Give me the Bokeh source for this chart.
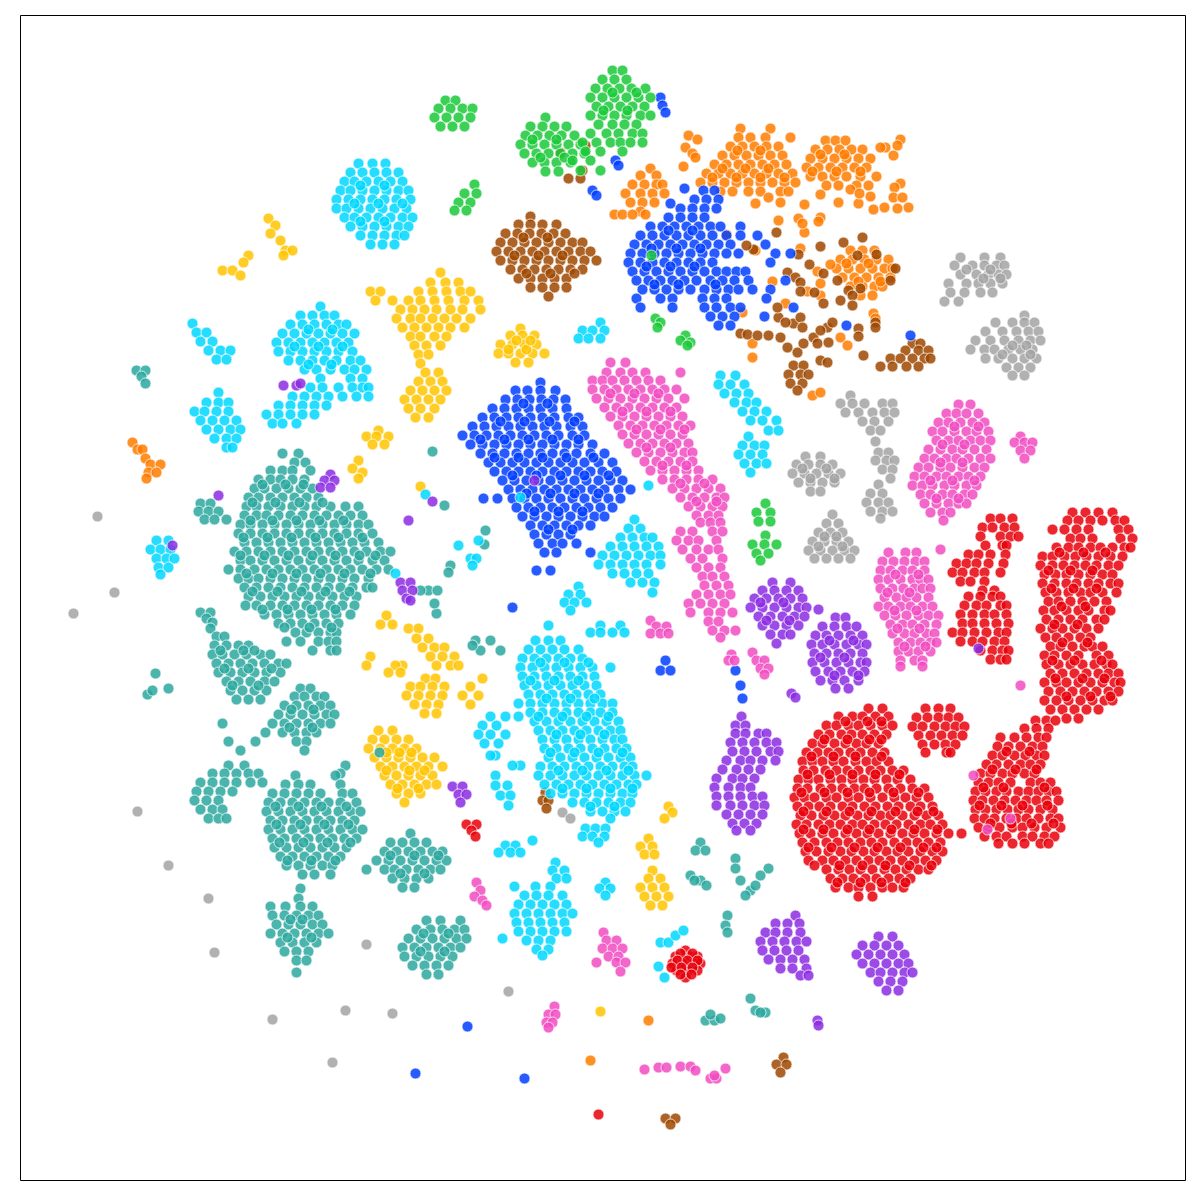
from bokeh.plotting import figure
from bokeh.embed import file_html
from bokeh.resources import INLINE

# Values, listed as (y, [x, ...]) rows, cluster by cluster.
red_rows = [
 (708,[868,882]),(716,[838,852,862,875,888]),(725,[826,836,848,858,870,882,892]),(734,[818,829,841,851,862,874,886]),
 (743,[812,822,834,845,856,866,878]),(752,[806,817,828,838,850,860,872,884]),(761,[802,812,822,833,843,855,866,876,888]),
 (770,[803,813,825,836,847,858,870,880,892,903]),(779,[798,808,818,830,841,852,863,874,886,897,910]),
 (788,[797,807,820,831,842,854,864,876,888,900,912,924]),(797,[794,804,814,826,836,848,858,870,882,894,905,916,928]),
 (806,[797,808,819,830,842,852,864,875,887,898,910,920,932]),(815,[800,811,823,834,845,857,868,880,890,902,914,926,938]),
 (824,[796,806,818,829,840,852,862,874,885,896,908,920,930,942]),(833,[799,810,822,833,845,856,867,878,890,902,913,924,936,948,961]),
 (842,[802,814,826,837,848,860,871,882,894,906,917,928,940]),(851,[805,816,828,840,851,863,874,886,897,908,920,932,942]),
 (860,[808,822,833,845,856,868,879,890,902,914,925,936]),(869,[826,838,849,860,872,884,895,906,918,928]),
 (878,[830,842,853,865,876,888,899,910]),(887,[835,848,858,870,882,892,903]),(896,[858,872]),
 (721,[845,867,881]),(739,[824,847,869,881]),(756,[811,833,855,881]),(774,[807,829,852,875,899]),(792,[801,824,847,869,893,918]),
 (811,[803,826,849,871,895,917,933]),(829,[803,823,847,869,891,914,937]),(847,[808,831,854,877,900,923,936]),(865,[814,839,862,885,909,931]),(882,[837,860,881,905]),
 (708,[925,938,950]),(717,[916,927,938,948,958]),(726,[912,922,934,945,955,964]),(735,[918,930,941,952,962]),(744,[922,934,945,955]),(752,[925,946,950]),
 (720,[1035,1046,1055]),(728,[1024,1036,1048]),(737,[1000,1014,1026,1038,1046]),(746,[997,1008,1020,1032,1042]),
 (755,[992,1002,1014,1025,1036,1044]),(764,[986,996,1008,1020,1030,1040]),(773,[980,990,1002,1012,1024,1034]),
 (782,[978,988,998,1010,1030,1040,1050]),(791,[975,985,996,1006,1018,1028,1038,1048,1056]),
 (800,[973,982,993,1004,1015,1026,1036,1046,1058]),(809,[975,985,996,1007,1018,1028,1040,1052]),
 (818,[974,984,994,1006,1016,1026,1038,1050,1058]),(827,[978,988,999,1012,1022,1034,1046,1060]),
 (836,[984,996,1006,1022,1032,1044,1054]),(843,[998,1012,1024,1040,1048]),
 (751,[1006,1029]),(769,[992,1015,1036]),(787,[983,1003,1044]),(805,[979,1001,1022,1047]),(823,[990,1011,1031,1053]),
 (512,[1072,1085,1098,1112]),(520,[1067,1078,1090,1102,1115,1124]),(529,[1064,1076,1088,1118,1128,1052]),(538,[1070,1080,1092,1120,1132]),
 (547,[1056,1068,1078,1090,1100,1112,1124,1130]),(556,[1042,1052,1064,1075,1086,1098,1110,1122]),(565,[1040,1052,1063,1074,1085,1096,1108,1118]),
 (574,[1044,1055,1066,1078,1090,1102,1112]),(583,[1042,1054,1066,1076,1088,1098,1110,1118]),(592,[1045,1056,1068,1080,1090,1102,1116]),
 (601,[1048,1058,1070,1082,1094,1106]),(610,[1043,1054,1066,1078,1088,1104,1110]),(619,[1046,1058,1070,1082,1096,1104]),
 (628,[1040,1052,1062,1074,1086,1098]),(637,[1045,1056,1068,1080,1090]),(646,[1050,1060,1072,1084,1092,1102]),
 (655,[1044,1054,1066,1078,1096,1108]),(664,[1046,1058,1070,1082,1094,1106,1112]),(673,[1050,1062,1074,1086,1098,1108,1118]),
 (682,[1044,1056,1066,1078,1090,1102,1114,1120]),(691,[1048,1060,1072,1084,1096,1108,1118]),(700,[1044,1056,1068,1080,1092,1104,1112]),
 (709,[1050,1062,1074,1086,1098]),(718,[1066,1078]),
 (552,[1059,1083,1105]),(570,[1048,1070,1092]),(588,[1051,1073,1096]),(606,[1061,1085]),(624,[1054,1077]),(642,[1062,1087]),(660,[1052,1074,1101]),(678,[1055,1082,1104]),(696,[1066,1090,1110]),
 (518,[990,1000,1012]),(527,[982,992,1004,1014]),(536,[980,1000,1010,1018]),(545,[985,1002,1006]),(554,[968,978,990,1005]),
 (563,[956,966,976,988,1003]),(572,[952,962,974,984,1000]),(581,[960,970,984]),(590,[982,994]),(596,[968,980,992,1000]),
 (605,[964,976,986,1000,1006]),(614,[960,972,984,994,1006]),(623,[962,972,984,996,1008]),(632,[952,962,974,986,998,1006]),
 (641,[960,972,982,994,1004]),(650,[980,992,1002,1008]),(659,[990,1000,1006]),
 (824,[466,476]),(830,[471]),(836,[475]),(950,[685]),(956,[675,690,697]),(963,[672,682,693,700]),(970,[676,688,697]),(977,[685]),(1114,[598]),
 (953,[680,692]),(960,[677,687,697]),(967,[671,681,692]),(974,[680,691]),
]
gray_rows = [
 (257,[960,984,1000]),(265,[954,972,984,996,1004]),(274,[960,976,988,998,1006]),(283,[948,966,978,990,1002]),(292,[950,964,980,992]),(301,[944,958]),
 (315,[1024]),(322,[1012,1024,1034,995]),(331,[1002,1016,1028,1038,985]),(340,[975,990,1004,1018,1030,1040]),(349,[970,984,994,1008,1020,1032]),
 (358,[985,998,1012,1024,1036]),(367,[1006,1018,1030]),(375,[1012,1024]),
 (395,[850]),(403,[840,852,864,882,892]),(412,[845,858,872,884,894]),(421,[862,874,888]),(430,[870,880]),(441,[875]),
 (452,[878,888]),(460,[875,886,894]),(469,[882,892]),(478,[890]),
 (456,[805,820]),(464,[796,808,820,832]),(473,[792,804,816,828,840]),(482,[798,810,822,834]),(491,[810,820]),
 (484,[878]),(493,[870,882]),(502,[866,878,888]),(511,[870,882,892]),(518,[880]),
 (514,[832]),(523,[826,838]),(532,[818,830,842]),(541,[812,824,836,848]),(550,[808,820,832,844,854]),(558,[814,826,838,850]),
 (269,[966,990]),(278,[983,1000]),(345,[1012,1026]),(354,[1002,1030]),(468,[802,826]),(478,[810,834]),(536,[824,836]),(546,[818,842]),
 (812,[562]),(818,[570]),(516,[97]),(592,[114]),(613,[73]),(811,[137]),(865,[168]),(898,[208]),(952,[214]),(1019,[272]),(1010,[345]),(1013,[392]),(944,[366]),(1062,[332]),(991,[508]),
]
gold_rows = [
 (272,[440]),(282,[430,445,458]),(291,[370,380,418,432,446,460,470]),(300,[375,392,408,420,434,448,464,478]),(309,[400,412,424,436,450,462,480]),
 (318,[396,410,420,432,444,456,470]),(327,[402,414,426,438,450,464]),(336,[410,420,434,446]),(345,[414,426,440]),(354,[418,428]),(363,[420]),
 (372,[425,438]),(381,[418,430,442]),(390,[410,422,434,446]),(399,[404,416,428,440]),(408,[408,420,434]),(417,[415,428]),
 (328,[520]),(335,[510,522,534]),(344,[500,512,524,536]),(353,[498,508,520,532,544]),(362,[515,528]),
 (430,[378]),(436,[366,376,388]),(444,[372,384]),(460,[358]),(468,[352]),(472,[362]),(478,[358]),
 (615,[386]),(624,[392,380]),(628,[408,418]),(638,[416,428]),(647,[422,434,444]),(656,[430,442,454,370]),(665,[366,436,450,458,402,395]),(672,[388,400]),
 (678,[425,435,482]),(686,[410,420,432,444,470]),(695,[406,418,430,442,462,478]),(704,[414,426,438,470]),(713,[424,436]),
 (730,[378,392]),(739,[372,384,396,408]),(748,[368,380,392,404,416]),(757,[374,386,398,410,422,434]),(766,[380,392,404,416,428,442]),
 (775,[384,396,408,420,432]),(784,[390,402,414,426,436]),(793,[396,408,420]),(802,[404]),
 (752,[386,399,411]),(770,[386,409,424]),(788,[397,418]),(349,[508,526]),(340,[516,530]),
 (838,[648]),(846,[640,652]),(854,[644,654]),(870,[652]),(878,[648,660]),(887,[640,652,664]),(896,[644,656,668]),(905,[650,662]),
 (806,[668]),(812,[672]),(818,[664]),(1011,[600]),(486,[420]),
 (218,[268]),(225,[275]),(233,[270]),(240,[280]),(250,[285,292]),(255,[283,248]),(262,[243]),(270,[222,232]),(275,[240]),
]
teal_rows = [
 (453,[282,298]),(462,[294,305]),(470,[270,282,292,310]),(479,[258,270,280,292,304]),(488,[254,264,276,288,300,312]),(497,[248,258,270,282,294,306,318]),
 (506,[246,256,268,280,292,304,316,330,345,358]),(515,[244,256,266,278,290,302,314,326,338,350,362]),(524,[240,250,262,274,286,298,310,322,334,346,358,368]),
 (533,[238,250,262,274,286,298,310,322,334,346,358,372]),(542,[244,256,268,280,292,304,316,328,340,352,364,378]),
 (551,[234,246,258,270,282,294,306,318,330,342,354,366,380,390]),(560,[240,250,262,274,286,298,310,322,334,346,358,372,384]),
 (569,[228,240,254,266,278,290,302,314,326,338,350,362,376,388]),(578,[238,248,258,270,282,294,306,318,330,342,354,368]),
 (587,[244,256,268,280,292,304,316,328,340,352,366,372]),(596,[248,260,272,284,296,308,320,332,344,356]),(605,[245,256,270,282,294,306,318,330,342,354]),
 (614,[264,276,288,300,312,324,336,350]),(623,[278,290,302,314,326,338]),(632,[295,306,318,330,336]),(641,[286,300,318,328,336]),(650,[312,330,336]),
 (484,[262,285,303]),(502,[252,275,299,322]),(520,[250,272,296,319,343]),(537,[243,267,291,315,338,362]),(555,[240,264,288,312,335,359,375]),
 (573,[246,272,296,320,344,370]),(591,[252,277,301,325,349]),(609,[262,287,311,335]),(627,[284,309,331]),
 (503,[200,210]),(511,[198,208,218]),(519,[204,214,226]),
 (612,[200,210]),(618,[206]),(622,[212]),(628,[210]),(636,[216,224]),(645,[214,226,238,248]),(654,[212,222,234,246,260,270]),
 (663,[216,228,240,252,264,278,286]),(672,[218,230,242,254,266,280]),(681,[226,238,250,264,274]),(690,[230,242,254,266]),(699,[236,248,260]),
 (650,[220,243,254]),(668,[224,248,271]),(685,[232,258]),
 (688,[300,310]),(696,[294,304,316,324]),(705,[284,296,308,320,330]),(714,[278,290,302,314,326,334]),(723,[272,284,296,308,320,330,222]),
 (732,[282,294,306,316,265]),(741,[296,306,255,228]),(750,[304,240]),(709,[291,313]),(727,[289,312]),
 (765,[228,244,345]),(773,[212,224,236,248,258,340]),(782,[200,212,224,236,250,262]),(791,[196,208,220,232]),(800,[194,206,218]),(809,[200,212,222]),(818,[208,218,226]),
 (775,[295,335]),(784,[285,298,310,340]),(793,[272,284,296,308,320,342,352]),(802,[268,280,292,304,316,328,340,356]),
 (811,[266,278,290,302,314,326,338,350,360]),(820,[270,282,294,306,318,330,342,354]),(829,[268,280,292,304,316,328,340,352,362]),
 (838,[272,284,296,308,320,332,344,356]),(847,[274,286,298,310,322,334,346]),(856,[280,292,304,316,328,340]),(865,[286,298,310,322,332]),(874,[302,314,330]),
 (806,[275,298,321,346]),(824,[276,300,324,348]),(842,[279,303,327,350]),(860,[287,311,335]),
 (833,[410]),(842,[390,402,414,426]),(851,[384,396,408,420,432,442]),(860,[376,388,400,412,424,436,446]),(869,[366,384,394,406,418,430,440]),(878,[392,404,416,428]),(887,[402,414]),
 (855,[390,414,438]),(873,[400,424]),
 (888,[300]),(898,[298]),(906,[270,285,300,312]),(915,[272,284,296,308,318]),(924,[276,288,300,312,322]),(933,[270,282,294,306,318,328]),
 (942,[280,292,304,316]),(951,[284,296,308]),(960,[296,306]),(972,[296]),(919,[290,302]),(937,[287,311]),
 (920,[426,440,460]),(929,[416,430,442,454,464]),(938,[408,420,432,444,456,466]),(947,[402,414,426,438,450,460]),(956,[404,416,428,440,452]),(965,[412,424,436,448]),(974,[426,438]),
 (933,[423,448]),(951,[420,444]),
 (370,[136,145]),(376,[141]),(383,[145]),(673,[155]),(694,[147]),(688,[168]),(690,[152]),
 (451,[432]),(505,[444]),(590,[428,420,437]),(613,[436]),(603,[434]),(565,[450]),(572,[448]),(530,[485]),(544,[484]),
 (640,[475,490]),(650,[480,500]),(645,[472]),(842,[700]),(850,[695,705]),(875,[690]),(880,[700,694]),(885,[706]),
 (858,[735]),(868,[735,768]),(880,[740]),(890,[750]),(895,[745]),(875,[760]),(885,[755]),(915,[727]),(925,[725]),(932,[727]),
 (1020,[705,714]),(1018,[720]),(1014,[710]),(998,[750]),(1010,[755]),(1012,[765,760]),(752,[379]),
]
orange_rows = [
 (128,[740,770]),(137,[738,750,765,790]),(146,[730,742,754,766,778]),(155,[722,734,746,758,770,782]),(164,[714,726,738,750,762,774,786]),
 (173,[706,718,730,742,754,766,778,792]),(182,[700,712,724,736,748,760,772,784,795]),(191,[720,732,748,760,780,788]),
 (150,[737,760]),(168,[722,745,768]),(177,[712,736,760,784]),
 (140,[825,835,845]),(149,[815,827,839,851,862]),(158,[810,822,834,846,858,870]),(167,[806,818,830,842,854,866]),(176,[810,822,834,846,860,876]),(185,[826,838,856,868]),
 (154,[820,844]),(171,[812,836,860]),
 (139,[900]),(155,[893]),(147,[885,880]),(145,[897]),(183,[900]),(187,[894]),(197,[893,902]),(203,[858]),(196,[870]),(209,[873]),(207,[884,908]),(208,[897]),(194,[820]),(202,[838]),(189,[850]),(193,[859]),
 (135,[688]),(139,[697]),(147,[685]),(153,[692]),(157,[695]),(166,[683]),
 (168,[650]),(175,[640,656]),(184,[632,644,656,662]),(193,[625,640,652,664]),(202,[630,642,654]),(211,[640]),(214,[614,622,632,645]),
 (250,[850,862,874]),(259,[840,852,864,876,888]),(268,[836,848,860,872,884,892]),(277,[842,854,866,878,890]),(286,[850,862,874,882]),(295,[860,872]),
 (263,[846,868]),(281,[858,880]),
 (203,[755]),(197,[768]),(202,[780]),(204,[804]),(220,[778]),(218,[798]),(232,[804]),(223,[802]),(217,[820]),(221,[818]),(264,[830]),(271,[817]),(283,[820]),(281,[772]),
 (303,[785]),(234,[726]),(250,[755]),(248,[800]),(291,[807]),(295,[820]),(357,[752]),(337,[840]),(345,[847]),(395,[812]),(392,[820]),(313,[873]),(318,[875]),(312,[742]),(343,[752]),
 (442,[132]),(449,[137,142]),(458,[145]),(464,[150,160]),(472,[148,156]),(478,[146]),(1020,[648]),(1060,[590]),
]
brown_rows = [
 (216,[530]),(224,[518,530,542,556]),(233,[505,517,529,541,553,565]),(242,[500,512,524,536,548,560,572,582]),(251,[496,508,520,532,544,556,568,580,590]),
 (260,[500,512,524,536,548,560,572,584,596]),(269,[510,522,534,546,558,570,582]),(278,[518,530,542,554,566]),(287,[530,542,554,566]),(296,[548]),
 (237,[523,547]),(255,[514,538,562]),(273,[526,550,574]),
 (333,[740]),(334,[747]),(335,[757,768]),(337,[780,813]),(323,[793]),(317,[800,778]),(327,[802,827]),(347,[787]),(352,[797]),(343,[803,817]),(330,[820]),(322,[832,785]),(342,[828]),
 (307,[777]),(272,[787]),(277,[795]),(282,[800]),(291,[800]),(292,[814]),(303,[823]),(254,[798]),(264,[809]),(273,[823]),(246,[820]),(249,[753]),(245,[746]),(232,[776]),(237,[862]),(242,[843]),
 (255,[857]),(254,[876]),(268,[895]),(280,[837,890]),(290,[848]),(300,[840]),(295,[852]),(305,[852]),(288,[860]),(328,[858]),(336,[858]),(322,[875]),(327,[875]),(355,[863]),
 (343,[912,920]),(350,[905,918,928]),(358,[890,900,912,924,930]),(366,[880,892,906,918]),(365,[793,803]),(374,[788,800,808]),(383,[790,802]),(390,[797]),(360,[820]),(362,[827]),
 (792,[545]),(800,[542,548]),(808,[546]),(1057,[783]),(1064,[776,786]),(1072,[780]),(1118,[665,675]),(1124,[670]),
 (152,[560]),(145,[585]),(170,[582]),(178,[568,580]),
]
blue_rows = [
 (382,[540]),(390,[515,527,540,555]),(399,[505,517,529,541,553,565]),(408,[492,504,516,528,540,552,566]),(417,[482,494,506,518,530,542,554,568,578]),
 (426,[472,484,496,508,520,532,544,556,570,582]),(435,[462,474,486,498,510,522,534,546,558,572,584]),(444,[470,482,494,506,518,530,542,554,566,578,592]),
 (453,[480,492,504,516,528,540,552,564,576,590,604]),(462,[488,500,512,524,536,548,560,572,584,598,612]),(471,[494,506,518,530,542,554,566,578,590,602,616]),
 (480,[502,514,526,538,550,562,574,586,598,610,622]),(489,[508,520,532,544,556,568,580,592,604,618,630]),(498,[512,524,536,548,560,572,584,596,608,620,483,497]),
 (507,[516,528,540,552,564,576,588,600,612]),(516,[522,534,546,558,570,582,594,604]),(525,[530,542,554,566,578,590]),(534,[534,546,558,570]),
 (543,[538,552,562,576]),(552,[544,556,590]),(570,[536,550]),(607,[512]),
 (403,[523,547]),(421,[500,524,549,574]),(439,[480,504,528,552,578]),(457,[494,518,542,566,593]),(475,[512,536,560,584,608]),(493,[526,550,574,598]),(511,[534,558,582]),(529,[548,572]),
 (190,[703,714]),(199,[694,706,718]),(208,[680,692,704,716]),(217,[668,680,692,704]),(226,[650,662,674,686,698,710,720,740]),
 (235,[640,652,664,676,688,700,712,726,740,757]),(244,[634,646,658,670,682,694,706,718,730,765]),(253,[630,642,654,666,678,690,702,714,726,738,775,790]),
 (262,[628,640,652,664,676,688,700,712,770]),(271,[632,644,656,668,680,692,704,716,726,736,745]),(280,[636,648,660,672,684,696,710,722,734,748,785]),
 (289,[642,654,666,678,690,704,716,728,738,752,770]),(298,[636,660,672,702,714,726,766]),(307,[640,672,704,716,730,740,793]),(316,[710,722,734,764]),(325,[718,730,846]),
 (230,[668,692]),(248,[651,676,700]),(266,[646,670,694]),(284,[654,678,715]),
 (335,[910]),(188,[684]),(203,[670]),(190,[592]),(195,[596]),(160,[615]),(165,[618]),(97,[660]),(105,[662]),(112,[665]),
 (670,[735,660,670]),(660,[665]),(685,[740]),(698,[742]),(1026,[467]),(1073,[415]),(1078,[524]),
]
cyan_rows = [
 (163,[358,372,385]),(172,[350,362,374,386,398]),(181,[344,354,366,378,390,402]),(190,[340,350,362,374,386,398,408]),(199,[336,348,360,372,384,396,410]),
 (208,[336,346,358,370,382,394,406]),(217,[344,354,366,378,390,402,412]),(226,[350,362,374,386,398,408]),(235,[360,372,384,396,404]),(244,[370,382,394]),
 (185,[360,384]),(203,[354,378,402]),(221,[360,384]),
 (306,[320]),(315,[300,312,324,334]),(324,[290,302,314,326,338,346]),(333,[282,294,306,318,330,342,354]),(342,[276,288,300,312,324,336,348]),
 (351,[278,290,302,314,326,338,352]),(360,[288,300,312,324,336,350,360]),(369,[304,316,330,344,354,366]),(378,[320,350,362]),(387,[310,322,338,352,362,368]),
 (396,[292,304,316,328,342,356,368]),(405,[278,290,302,314,326]),(414,[266,278,290,302,314]),(423,[272,282,296]),
 (329,[308,332]),(346,[294,318,342]),(364,[308,331]),
 (323,[192]),(332,[196,206]),(341,[200,212]),(350,[208,220,230]),(359,[216,226]),
 (392,[218]),(402,[206,218,228]),(411,[194,204,216,228]),(420,[200,212,224,236]),(429,[206,218,230,240]),(438,[214,226,236]),(447,[226,232]),
 (540,[156,168]),(549,[150,160,170]),(558,[156,166,174]),(567,[158,168]),(574,[160]),
 (322,[600]),(330,[582,592,604]),(338,[578,588,600]),
 (375,[720,735]),(384,[718,730,744]),(393,[724,736,748]),(402,[734,746,756]),(411,[742,754,766]),(420,[750,762,776]),(430,[768,778]),
 (436,[748]),(445,[742,754,764]),(454,[738,750,762]),(463,[744,756,766]),(472,[750]),
 (519,[634]),(528,[628,640]),(537,[620,632,644,652]),(546,[610,622,634,646,658]),(555,[602,614,626,638,650,660]),(564,[598,610,622,634,646,660]),
 (573,[612,624,636,648]),(582,[630,642,654]),(592,[652]),(485,[648]),
 (586,[578]),(594,[568,580]),(602,[564,574,586]),(610,[570]),(558,[470,476]),(565,[472]),(545,[458]),(540,[478]),
 (640,[535,548,560]),(649,[528,540,552,564,578]),(625,[548,600,620]),(632,[590,600,612,624]),(658,[522,534,546,558,570,582]),
 (667,[520,532,544,556,568,580,592,610]),(676,[522,534,546,558,570,582,594]),(685,[524,536,548,560,572,584,596]),(694,[528,540,552,564,576,588,600]),
 (703,[518,530,542,554,566,578,590,602,612]),(712,[530,542,554,566,578,590,600,612]),(721,[534,546,558,570,582,594,606,618]),
 (730,[538,550,562,574,586,598,610,620]),(739,[542,554,566,578,590,602,614,622]),(748,[544,556,568,580,592,604,616,626]),
 (757,[548,560,572,584,596,608,620,630]),(766,[540,552,564,576,588,600,612,624,632]),(775,[538,550,562,574,586,598,610,622,634,646]),
 (784,[544,556,568,580,592,604,616,628,636]),(793,[550,562,574,586,598,610,622,632]),(802,[572,584,596,608,620,630]),(811,[590,602,614,625]),(818,[610]),
 (662,[540,564,588]),(680,[530,554,578]),(698,[546,570,594]),(716,[538,562,586,608]),(734,[556,580,604]),(752,[550,574,598,622]),(770,[558,582,606,628]),(788,[562,586,610,632]),(806,[590,614]),
 (716,[505,518,490]),(725,[482,496]),(734,[478,490,505]),(743,[484,498]),(755,[495,490]),(765,[520,512]),(775,[495]),(785,[495,507]),(795,[500,510]),(805,[508]),
 (828,[585,595,605]),(836,[582,592,604]),(842,[598]),(845,[505,515]),(852,[498,510,520]),(840,[532]),
 (862,[555]),(870,[552,564]),(878,[556,566]),(886,[535,550,514]),(895,[524,536,548,562]),(904,[518,530,542,554,566]),(913,[514,526,538,550,562,572]),
 (922,[516,528,540,552,564]),(931,[518,530,542,554,566]),(940,[526,538,550]),(949,[536,548]),(955,[542]),
 (882,[605]),(888,[599,610]),(895,[605]),(938,[502]),(942,[660,668]),(935,[675]),(930,[683]),(966,[658]),(977,[664]),(573,[395]),(494,[425]),(497,[520]),
]
green_rows = [
 (100,[445,455]),(108,[438,450,462,472]),(117,[434,446,458,470]),(126,[440,452,464]),(184,[474]),(193,[464,476]),(202,[458,470]),(210,[454,466]),
 (117,[545]),(126,[530,542,554,566]),(135,[525,537,549,561,574]),(144,[520,532,544,556,568,580]),(153,[524,536,548,560,572,584]),(162,[532,544,556,570]),(171,[545,558]),
 (139,[532,556]),(157,[540,564]),
 (70,[612,622]),(79,[602,614,626]),(88,[595,607,619,631,645]),(97,[590,602,614,626,638,650]),(106,[596,608,620,632,644]),(115,[590,602,614,626,640,650]),
 (124,[598,612,624,636]),(133,[590,606,618,632,642]),(142,[582,596,610,620,630,642]),(151,[585,600,622]),(160,[572,590]),(170,[580,600]),
 (92,[612,636]),(110,[603,627]),
 (503,[765]),(512,[756,770]),(521,[758,770]),(535,[765]),(544,[752,764,776]),(553,[756,768]),(560,[760]),
 (318,[655]),(322,[660]),(327,[657]),(335,[685]),(340,[680]),(342,[690]),(345,[687]),(255,[651]),
]
purple_rows = [
 (582,[772,790]),(590,[762,774,786,798]),(598,[754,766,778,790,802]),(607,[750,762,774,786,798,806]),(616,[758,770,782,794,804]),(625,[762,774,786,798]),(634,[770,782,790]),(643,[776]),(609,[818]),
 (602,[760,783]),(620,[766,789]),
 (617,[835,845]),(626,[822,834,846,856]),(635,[815,826,838,850,862]),(644,[811,822,834,846,858,866]),(653,[814,826,838,850,862]),(662,[812,824,836,848,860,866]),
 (671,[815,828,840,852,864]),(680,[820,832,844,858]),(688,[835,848]),(640,[829,853]),(657,[820,844]),(675,[834,858]),
 (716,[741]),(725,[735,745]),(733,[735,745,758,766]),(742,[730,742,754,766,776]),(751,[732,744,756,770,778]),(760,[726,740,750,762,775]),(769,[722,736,748,760]),
 (778,[716,732,742,754]),(787,[714,728,740,750]),(796,[716,728,740,752,762]),(805,[716,730,742,754,764]),(814,[726,738,750,762]),(823,[732,744,756]),(830,[736,750]),
 (915,[795]),(923,[775,787,799]),(932,[765,775,787,800]),(941,[760,772,784,796,806]),(950,[762,774,786,798]),(959,[768,780,792,804]),(968,[780,792,806]),(975,[800,808]),
 (936,[878,892]),(945,[862,874,886,898]),(954,[856,868,880,892,904]),(963,[862,874,886,898,908]),(972,[870,880,892,904,912]),(981,[878,890,902]),(990,[886,898]),
 (786,[452,462]),(794,[458,466]),(802,[460]),(474,[330]),(480,[324,334,534]),(487,[320,330]),(582,[400,410]),(590,[402,412]),(598,[406]),(600,[410]),
 (495,[218]),(385,[283,296]),(383,[300]),(693,[791]),(697,[795]),(1020,[817]),(1025,[818]),(520,[408]),(545,[172]),(501,[432]),(648,[978]),
]
pink_rows = [
 (552,[888,905,916]),(561,[882,893,904,915,924]),(570,[880,890,902,912,924]),(579,[878,888,900,912,920,928]),(588,[880,892,903,914,922,930]),(597,[884,896,906,916,928]),
 (606,[878,888,900,910,922,932]),(615,[884,895,906,918,928,938]),(624,[890,902,912,924,936]),(633,[892,904,914,926,934]),(642,[898,910,920,930,936]),(651,[898,908,918,930]),(660,[900,914,922]),(666,[900,922]),
 (574,[895,918]),(592,[887,909]),(610,[894,916]),(628,[897,919]),(646,[904,925]),
 (404,[958,970]),(413,[946,956,966,978]),(422,[938,948,960,972,984]),(431,[932,942,954,966,976,988]),(440,[936,948,958,970,980,990]),(449,[928,940,952,962,974,986]),
 (458,[924,934,946,956,968,980,990]),(467,[918,928,940,950,962,974,984]),(476,[914,924,936,946,958,968,980]),(485,[912,922,932,944,954,966,976]),(494,[920,930,942,952,964,972]),
 (503,[924,936,948,958,966]),(512,[930,942,950]),(520,[943]),(436,[1020]),(442,[1014,1024,1032]),(450,[1020,1030]),(458,[1024]),
 (426,[954,978]),(444,[942,964]),(462,[940,962]),(480,[930,952,974]),(498,[936,958]),
 (362,[610,625]),(372,[606,620,632,645,680]),(380,[592,602,612,624,636,648,660]),(389,[592,604,616,628,640,652,664,676]),(398,[596,608,620,632,644,656,668,684]),
 (407,[604,616,628,640,652,664,676]),(416,[610,622,634,646,658,670,682]),(425,[618,630,642,654,666,678,690]),(434,[622,634,646,658,670,682]),(443,[628,640,652,664,676,688]),
 (452,[636,648,660,672,684,692]),(461,[644,656,668,680,692]),(470,[650,662,674,686,698]),(479,[662,674,686,698,712]),(488,[672,684,696,708,720]),(497,[680,692,704,716,724]),
 (506,[688,700,712,722]),(515,[696,708,718]),(522,[700,710,720]),(531,[680,692,712,722]),(540,[676,688,698,716]),(549,[682,696,708,718]),(558,[690,702,722]),(567,[696,708,720]),
 (393,[610,634,658]),(411,[622,646,670]),(429,[636,660,684]),(447,[646,670]),(465,[662,686]),(483,[680,704]),(501,[696,716]),
 (576,[702,712,724]),(585,[704,716,728]),(594,[696,708,720,730]),(603,[688,700,712,724]),(612,[690,708,720,732]),(621,[708,718]),(630,[712,724,735]),(637,[720]),
 (620,[650]),(626,[656,666]),(633,[650,660,668]),(654,[731]),(660,[728,734]),(652,[752]),(660,[756,764]),(668,[760,768]),(674,[764]),
 (882,[476]),(890,[480]),(896,[474]),(900,[482]),(905,[486]),(932,[603]),(940,[606,616]),(948,[602,612,622]),(956,[608,618]),(962,[596,616,625]),(971,[620]),
 (1006,[554]),(1014,[548,555]),(1022,[546,552]),(1027,[548]),(1069,[644]),(1067,[658,666]),(1066,[680,690]),(1070,[695]),(1078,[710,716]),(1075,[714]),(1068,[725]),
 (775,[973]),(829,[987]),(818,[1010]),(685,[1020]),(549,[940]),
]
series_colors = {
 "red": "#e8000b", "gray": "#a3a3a3", "gold": "#ffc400", "teal": "#2ca89f", "orange": "#ff7c00",
 "brown": "#9f4800", "blue": "#023eff", "cyan": "#00d7ff", "green": "#1ac938", "purple": "#8b2be2", "pink": "#f14cc1",
}
series_rows = {
 "red": red_rows, "gray": gray_rows, "gold": gold_rows, "teal": teal_rows, "orange": orange_rows,
 "brown": brown_rows, "blue": blue_rows, "cyan": cyan_rows, "green": green_rows, "purple": purple_rows, "pink": pink_rows,
}

p = figure(width=1192, height=1192, x_range=(20, 1185), y_range=(1180, 15),
           output_backend="svg", toolbar_location=None,
           min_border_left=20, min_border_right=7, min_border_top=15, min_border_bottom=12)
p.axis.visible = False
p.grid.visible = False
p.outline_line_color = "black"
p.outline_line_width = 1
p.background_fill_color = "white"

for name, rows in series_rows.items():
    xs = [x for y, row in rows for x in row]
    ys = [y for y, row in rows for x in row]
    p.scatter(xs, ys, size=11, fill_color=series_colors[name], fill_alpha=0.85,
              line_color="white", line_width=1, line_alpha=0.75)

open("out.html", "w").write(file_html(p, INLINE))
